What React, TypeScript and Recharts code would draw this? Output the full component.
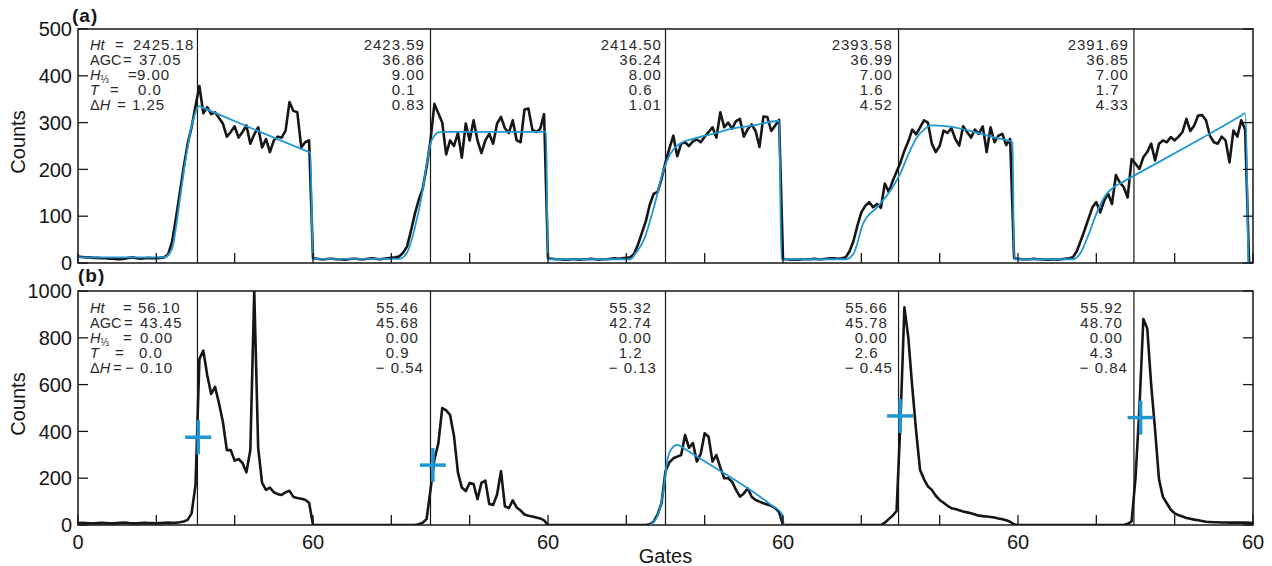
import React from 'react';
import {
  ComposedChart,
  Line,
  Scatter,
  XAxis,
  YAxis,
  ReferenceLine,
  ReferenceArea,
} from 'recharts';

const INK = '#161616';
const BLUE = '#1f97d4';
const FONT = "'Liberation Sans', Arial, sans-serif";

// every window is 60 gates wide; the last window also carries gate 300
const WINDOW_START = [0, 60, 120, 180, 240];

// (a) ocean-surface returns, counts per gate, one array per window
const A_W1 = [
  14, 13, 12, 12, 11, 11, 10, 10, 9, 9, 8, 8, 9, 11, 12, 10, 9, 10, 11, 10, 10, 11, 12,
  18, 45, 95, 150, 205, 255, 290,
  335, 378, 320, 333, 318, 322, 310, 298, 270, 280,
  292, 268, 280, 294, 255, 275, 290, 247, 265, 237,
  262, 270, 268, 283, 344, 325, 322, 247, 258, 262,
];
const A_W2 = [
  10, 9, 8, 8, 9, 9, 8, 8, 7, 8, 9, 9, 8, 8, 9, 10, 9, 8, 9, 10, 11, 12,
  14, 22, 35, 68, 105, 135, 158, 205,
  262, 340, 320, 300, 232, 262, 250, 278, 225, 298,
  262, 305, 262, 235, 262, 276, 255, 298, 312, 288,
  278, 305, 262, 258, 328, 330, 285, 280, 286, 318,
];
const A_W3 = [
  10, 9, 8, 8, 7, 7, 8, 8, 7, 8, 8, 9, 8, 7, 8, 8, 9, 10, 9, 10, 11,
  12, 20, 40, 65, 90, 125, 148, 152, 180,
  215, 245, 272, 228, 255, 258, 250, 260, 264, 258,
  270, 280, 290, 268, 322, 290, 300, 287, 303, 308,
  270, 286, 296, 282, 248, 313, 312, 282, 294, 306,
];
const A_W4 = [
  8, 8, 7, 7, 7, 8, 8, 8, 9, 8, 8, 9, 10, 10, 9, 10,
  12, 25, 47, 80, 108, 122, 130, 119, 126, 118, 170, 152, 175, 195,
  215, 240, 260, 285, 275, 290, 305, 300, 255, 237,
  250, 283, 278, 288, 265, 251, 292, 280, 268, 285,
  276, 292, 237, 290, 258, 272, 276, 252, 265, 10,
];
const A_W5 = [
  9, 8, 8, 8, 9, 8, 8, 7, 7, 8, 7, 8, 9, 10,
  12, 25, 47, 70, 95, 119,
  130, 108, 133, 148, 126, 188, 172, 162, 140, 222,
  212, 201, 226, 237, 255, 219, 255, 262, 258, 269,
  262, 270, 280, 308, 282, 294, 315, 316, 305, 272,
  258, 255, 270, 262, 215, 283, 270, 305, 285, 0, 0,
];

// (b) ice / specular returns
const B_W1 = [
  8, 9, 8, 7, 7, 8, 9, 8, 7, 7, 8, 9, 10, 8, 7, 7, 8, 9, 8, 8, 7, 8, 9, 10, 9,
  10, 12, 15, 22, 50,
  170, 710, 745, 640, 560, 590, 520, 440, 320, 320,
  275, 282, 265, 225, 320, 1000, 330, 180, 150, 160,
  140, 132, 128, 140, 146, 120, 115, 112, 108, 95,
];
const B_W2 = [
  0, 0, 0, 0, 0, 0, 0, 0, 0, 0, 0, 0, 0, 0, 0, 0, 0, 0, 0, 0, 0, 0, 0, 0, 0, 0, 0,
  3, 10, 25,
  150, 280, 349, 500, 490, 470, 380, 225, 160, 145,
  180, 175, 110, 180, 190, 90, 86, 130, 230, 80,
  72, 105, 75, 62, 45, 40, 36, 32, 28, 20,
];
const B_W3 = [
  0, 0, 0, 0, 0, 0, 0, 0, 0, 0, 0, 0, 0, 0, 0, 0, 0, 0, 0, 0, 0, 0, 0, 0, 0, 0,
  3, 15, 45, 95,
  230, 268, 285, 292, 299, 385, 330, 350, 271, 305,
  392, 377, 271, 299, 245, 200, 200, 185, 150, 121,
  135, 157, 121, 107, 100, 93, 88, 82, 72, 55,
];
const B_W4 = [
  0, 0, 0, 0, 0, 0, 0, 0, 0, 0, 0, 0, 0, 0, 0, 0, 0, 0, 0, 0, 0, 0, 0, 0, 0, 0,
  10, 25, 40, 60,
  450, 930, 800, 590, 400, 235, 195, 165, 150, 125,
  107, 95, 82, 72, 68, 63, 58, 54, 50, 45,
  40, 38, 36, 34, 32, 28, 25, 20, 14, 3,
];
const B_W5 = [
  0, 0, 0, 0, 0, 0, 0, 0, 0, 0, 0, 0, 0, 0, 0, 0, 0, 0, 0, 0, 0, 0, 0, 0, 0, 0, 0, 0,
  5, 15, 200, 500, 880, 840, 600, 406, 195, 120, 93, 65,
  50, 42, 36, 30, 27, 23, 20, 17, 14, 13,
  12, 12, 11, 11, 10, 10, 10, 11, 10, 9, 8,
];

// fitted return model, [gate, counts] knots
const FIT_A = [
  [0, 12], [22, 12], [24, 30], [25, 75], [26, 135], [27, 195], [28, 248], [29, 292], [30, 322],
  [31, 335], [32, 331.5], [59, 237], [59.3, 236], [60, 9],
  [82, 9], [84, 22], [86, 75], [88, 155], [89, 210], [90, 255], [91, 272], [92.5, 280],
  [119.5, 280], [120, 8],
  [141, 8], [142.5, 22], [144.5, 50], [147, 118], [149.5, 198], [151.2, 233], [153.7, 255],
  [157, 265], [162, 276], [167, 287], [172.5, 294], [179, 304], [179.6, 8],
  [196, 8], [198, 20], [200.5, 85], [204, 119], [208, 162], [210, 192], [212, 232], [214, 266],
  [216, 285], [218, 294], [222, 292], [228, 282], [234, 268], [238.6, 258], [239, 8],
  [254, 8], [256, 22], [258, 60], [260, 105], [262, 140], [265, 165], [266, 169.7],
  [297, 315], [298, 320], [298.8, 0],
];
const FIT_B = [
  [146, 0], [148, 40], [149.5, 150], [150.5, 280], [151.5, 325], [153, 342], [154.5, 330],
  [155.5, 319], [177, 85], [179.7, 48], [180.2, 0],
];

// tracking-point markers in (b)
const MARK_GATES = [30.7, 90.6, 209.9, 271.3];
const MARK_COUNTS = [375, 256, 466, 459];

// retracking gate of each window (vertical rules)
const TRACK_GATES = [30.5, 90, 150, 209.5, 269.6];

const GATE_TICKS = [0, 20, 40, 60, 80, 100, 120, 140, 160, 180, 200, 220, 240, 260, 280, 300];
const GATE_LABELS = ['0', '', '', '60', '', '', '60', '', '', '60', '', '', '60', '', '', '60'];
const TICKS_A = [0, 100, 200, 300, 400, 500];
const TICKS_B = [0, 200, 400, 600, 800, 1000];

// Ht, AGC, H1/3, T, dH for each window
const STATS_A = [
  ['2425.18', '37.05', '9.00', '0.0', '1.25'],
  ['2423.59', '36.86', '9.00', '0.1', '0.83'],
  ['2414.50', '36.24', '8.00', '0.6', '1.01'],
  ['2393.58', '36.99', '7.00', '1.6', '4.52'],
  ['2391.69', '36.85', '7.00', '1.7', '4.33'],
];
const STATS_B = [
  ['56.10', '43.45', '0.00', '0.0', '\u2212 0.10'],
  ['55.46', '45.68', '0.00', '0.9', '\u2212 0.54'],
  ['55.32', '42.74', '0.00', '1.2', '\u2212 0.13'],
  ['55.66', '45.78', '0.00', '2.6', '\u2212 0.45'],
  ['55.92', '48.70', '0.00', '4.3', '\u2212 0.84'],
];

const trace = (windows: number[][]) =>
  windows.flatMap((w, k) => w.map((v, i) => ({ g: WINDOW_START[k] + i, v })));
const knots = (pts: number[][]) => pts.map(([g, v]) => ({ g, v }));

const TRACE_A = trace([A_W1, A_W2, A_W3, A_W4, A_W5]);
const TRACE_B = trace([B_W1, B_W2, B_W3, B_W4, B_W5]);
const MARKS = MARK_GATES.map((g, i) => ({ g, v: MARK_COUNTS[i] }));

function GateTick(props: any) {
  const { x, y, payload, labelled } = props;
  const label = GATE_LABELS[GATE_TICKS.indexOf(payload.value)];
  return (
    <g>
      <line x1={x} x2={x} y1={y} y2={y - 10} stroke={INK} strokeWidth={1.3} />
      {labelled && label ? (
        <text x={x} y={y + 24} textAnchor="middle" fontSize={20} fill={INK}>
          {label}
        </text>
      ) : null}
    </g>
  );
}

function CountTick(props: any) {
  const { x, y, payload } = props;
  return (
    <g>
      <line x1={x} x2={x + 10} y1={y} y2={y} stroke={INK} strokeWidth={1.3} />
      <text x={x - 6} y={y} dy="0.36em" textAnchor="end" fontSize={20} fill={INK}>
        {payload.value}
      </text>
    </g>
  );
}

function RightTick(props: any) {
  const { x, y } = props;
  return <line x1={x - 10} x2={x} y1={y} y2={y} stroke={INK} strokeWidth={1.3} />;
}

function CountsLabel(props: any) {
  const vb = props.viewBox ?? { x: 0, y: 0, width: 0, height: 0 };
  const cx = vb.x + 18;
  const cy = vb.y + vb.height / 2 - 4;
  return (
    <text
      x={cx}
      y={cy}
      transform={`rotate(-90 ${cx} ${cy})`}
      textAnchor="middle"
      dominantBaseline="central"
      fontSize={20}
      fill={INK}
    >
      Counts
    </text>
  );
}

function PlusMark(props: any) {
  const { cx, cy } = props;
  if (cx == null || cy == null) return null;
  return (
    <g stroke={BLUE} strokeWidth={3.5}>
      <line x1={cx - 13} x2={cx + 13} y1={cy} y2={cy} />
      <line x1={cx} x2={cx} y1={cy - 17} y2={cy + 17} />
    </g>
  );
}

type PanelProps = {
  top: number;
  height: number;
  marginTop: number;
  marginBottom: number;
  axisHeight: number;
  yMax: number;
  yTicks: number[];
  data: { g: number; v: number }[];
  fit: number[][];
  withMarks?: boolean;
  bottomLabels?: boolean;
};

function Panel(p: PanelProps) {
  return (
    <div style={{ position: 'absolute', left: 0, top: p.top }}>
      <ComposedChart
        width={1272}
        height={p.height}
        margin={{ top: p.marginTop, right: 0, bottom: p.marginBottom, left: 0 }}
      >
        <XAxis
          type="number"
          dataKey="g"
          domain={[0, 300]}
          ticks={GATE_TICKS}
          interval={0}
          tickSize={0}
          tickMargin={0}
          axisLine={false}
          tickLine={false}
          height={p.axisHeight}
          allowDataOverflow
          tick={<GateTick labelled={p.bottomLabels} />}
          label={
            p.bottomLabels
              ? { value: 'Gates', position: 'insideBottom', offset: 3, fontSize: 20, fill: INK }
              : undefined
          }
        />
        <YAxis
          type="number"
          domain={[0, p.yMax]}
          ticks={p.yTicks}
          interval={0}
          width={78}
          tickSize={0}
          tickMargin={0}
          axisLine={false}
          tickLine={false}
          allowDataOverflow
          tick={<CountTick />}
          label={<CountsLabel />}
        />
        <YAxis
          yAxisId="right"
          orientation="right"
          type="number"
          domain={[0, p.yMax]}
          ticks={p.yTicks}
          interval={0}
          width={19}
          tickSize={0}
          tickMargin={0}
          axisLine={false}
          tickLine={false}
          allowDataOverflow
          tick={<RightTick />}
        />
        <ReferenceArea x1={0} x2={300} y1={0} y2={p.yMax} fill="none" stroke={INK} strokeWidth={1.5} />
        {TRACK_GATES.map((g) => (
          <ReferenceLine key={g} x={g} stroke={INK} strokeWidth={1.2} />
        ))}
        <Line
          data={p.data}
          dataKey="v"
          type="linear"
          stroke={INK}
          strokeWidth={2.6}
          strokeLinejoin="round"
          dot={false}
          activeDot={false}
          isAnimationActive={false}
        />
        <Line
          data={knots(p.fit)}
          dataKey="v"
          type="monotone"
          stroke={BLUE}
          strokeWidth={1.8}
          dot={false}
          activeDot={false}
          isAnimationActive={false}
        />
        {p.withMarks ? (
          <Scatter data={MARKS} dataKey="v" shape={<PlusMark />} isAnimationActive={false} />
        ) : null}
      </ComposedChart>
    </div>
  );
}

const ROW_Y_A = [50, 65, 80, 95, 110];
const ROW_Y_B = [313, 328, 343, 358, 373];
const EQ_X_A = [115, 123, 128, 110, 117];
const EQ_X_B = [123, 124, 123, 115, 113];
const VAL_X_A = [133, 139, 137, 138, 132];
const VAL_X_B = [138, 140, 140, 139, 125];
const DEC_X_A = [401, 638, 869, 1105];
const DEC_X_B = [395, 628, 864, 1099];

function rowName(i: number) {
  switch (i) {
    case 0:
      return <tspan fontStyle="italic">Ht</tspan>;
    case 1:
      return 'AGC';
    case 2:
      return (
        <>
          <tspan fontStyle="italic">H</tspan>
          <tspan fontSize={10} dy={3}>
            {'\u2153'}
          </tspan>
        </>
      );
    case 3:
      return <tspan fontStyle="italic">T</tspan>;
    default:
      return (
        <>
          {'\u0394'}
          <tspan fontStyle="italic">H</tspan>
        </>
      );
  }
}

function StatBlock(props: {
  stats: string[][];
  rowY: number[];
  eqX: number[];
  valX: number[];
  decX: number[];
  lastShift: number;
}) {
  const { stats, rowY, eqX, valX, decX, lastShift } = props;
  return (
    <g fontSize={15} fill="#2a2a2a">
      {rowY.map((y, r) => (
        <g key={'l' + r}>
          <text x={90} y={y} fontSize={14.5}>
            {rowName(r)}
          </text>
          <text x={eqX[r]} y={y}>
            =
          </text>
          <text x={valX[r]} y={y} letterSpacing={1}>
            {stats[0][r]}
          </text>
        </g>
      ))}
      {decX.map((dx, k) =>
        rowY.map((y, r) => {
          const [whole, frac] = stats[k + 1][r].split('.');
          const x = dx + (r === 4 ? lastShift : 0);
          return (
            <g key={k + '-' + r} letterSpacing={1}>
              <text x={x} y={y} textAnchor="end">
                {whole}
              </text>
              <text x={x} y={y}>
                {'.' + frac}
              </text>
            </g>
          );
        })
      )}
    </g>
  );
}

export default function App() {
  return (
    <div style={{ position: 'relative', width: 1272, height: 566, fontFamily: FONT, background: '#fff' }}>
      <style>{'body{margin:0}'}</style>
      <Panel
        top={0}
        height={280}
        marginTop={29}
        marginBottom={16}
        axisHeight={1}
        yMax={500}
        yTicks={TICKS_A}
        data={TRACE_A}
        fit={FIT_A}
      />
      <Panel
        top={270}
        height={296}
        marginTop={21}
        marginBottom={0}
        axisHeight={41}
        yMax={1000}
        yTicks={TICKS_B}
        data={TRACE_B}
        fit={FIT_B}
        withMarks
        bottomLabels
      />
      <svg
        width={1272}
        height={566}
        style={{ position: 'absolute', left: 0, top: 0, pointerEvents: 'none' }}
        fontFamily={FONT}
      >
        <text x={72} y={22} fontSize={19} fontWeight="bold" fill={INK} letterSpacing={1}>
          (a)
        </text>
        <text x={78} y={282} fontSize={19} fontWeight="bold" fill={INK} letterSpacing={1}>
          (b)
        </text>
        <StatBlock stats={STATS_A} rowY={ROW_Y_A} eqX={EQ_X_A} valX={VAL_X_A} decX={DEC_X_A} lastShift={0} />
        <StatBlock stats={STATS_B} rowY={ROW_Y_B} eqX={EQ_X_B} valX={VAL_X_B} decX={DEC_X_B} lastShift={5} />
      </svg>
    </div>
  );
}
